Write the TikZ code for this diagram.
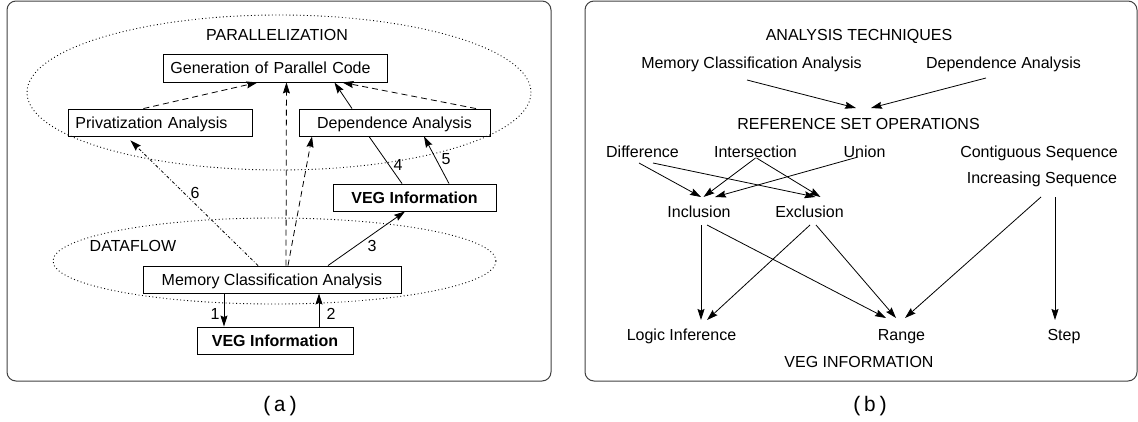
\documentclass[tikz,border=0pt]{standalone}
\usepackage{fontspec}
\setmainfont{Liberation Sans}
\newfontfamily\capfont{Liberation Mono}
\usetikzlibrary{arrows.meta,calc,shapes.geometric}
\begin{document}
\begin{tikzpicture}[x=1pt,y=-1pt,
  every node/.style={font=\fontsize{16}{19}\selectfont, inner sep=0pt, text height=11.5pt, text depth=0pt},
  box/.style={draw, line width=0.9pt, minimum height=27pt, inner xsep=7pt},
  boxb/.style={box, font=\fontsize{16}{19}\selectfont\bfseries},
  con/.style={line width=0.8pt},
  arr/.style={con, -{Stealth[length=11pt,width=7pt,inset=1.5pt]}},
  dsh/.style={dash pattern=on 6pt off 4pt},
  dd/.style={dash pattern=on 3pt off 2pt on 0.8pt off 2pt},
  dotline/.style={line width=0.9pt, dash pattern=on 0.9pt off 2.6pt},
  panel/.style={draw=black!75, line width=1pt, rounded corners=9pt},
  captxt/.style={font=\capfont\fontsize{21}{24}\selectfont, text height=, text depth=, anchor=base},
]
\useasboundingbox (0,0) rectangle (1138,421);

% ---------- panel (a) ----------
\draw[panel] (7,1) rectangle (551,381);
\draw[dotline] (279,92.5) ellipse [x radius=252pt, y radius=77.5pt];
\draw[dotline] (274.5,261) ellipse [x radius=221.5pt, y radius=43pt];

\node (par) at (277,35) {PARALLELIZATION};
\node (dfl) at (133,246) {DATAFLOW};

\node[box, anchor=west, minimum height=28pt, text width=210pt, align=left] (gen) at (163,68) {Generation of Parallel Code};
\node[box, anchor=west, text width=170pt, align=left] (priv) at (68,122.5) {Privatization Analysis};
\node[box, minimum width=191pt] (dep) at (394.5,122.5) {Dependence Analysis};
\node[boxb, minimum width=163pt] (vegU) at (414.5,197.5) {VEG Information};
\node[box, minimum width=258pt] (mca) at (272,279.5) {Memory Classification Analysis};
\node[boxb, minimum width=156pt] (vegL) at (275,340.5) {VEG Information};

\draw[arr,dsh] ([xshift=-17pt]priv.north) -- ([xshift=-18pt]gen.south);
\draw[arr] ([xshift=-42.5pt]dep.north) -- ([xshift=59pt]gen.south);
\draw[arr,dsh] ([xshift=81.5pt]dep.north) -- ([xshift=67pt]gen.south);
\draw[arr,dsh] ([xshift=14pt]mca.north) -- ([xshift=11pt]gen.south);
\draw[arr,dsh] ([xshift=16pt]mca.north) -- ([xshift=-82.5pt]dep.south);
\draw[arr,dd] ([xshift=-14pt]mca.north) -- ([shift={(-30,4)}]priv.south);
\draw[arr] ([xshift=56pt]mca.north) -- ([xshift=-9.5pt]vegU.south);
\draw[con] ([xshift=-25.5pt]dep.south) -- ([xshift=-12.5pt]vegU.north);
\draw[arr] ([xshift=34.5pt]vegU.north) -- ([xshift=29.5pt]dep.south);
\draw[arr] ([xshift=-48pt]mca.south) -- ([xshift=-51pt]vegL.north);
\draw[arr] ([xshift=44pt]vegL.north) -- ([xshift=47pt]mca.south);

\node (l1) at (215,314) {1};
\node (l2) at (331,314) {2};
\node (l3) at (372,246) {3};
\node (l4) at (398,165) {4};
\node (l5) at (446,159) {5};
\node (l6) at (195,193) {6};

\node[captxt] (capa) at (280,411.5) {(a)};

% ---------- panel (b) ----------
\draw[panel] (585,1) rectangle (1137,381);

\node (atech) at (859,35) {ANALYSIS TECHNIQUES};
\node (bmca) at (751.5,63) {Memory Classification Analysis};
\node (bdep) at (1003.5,63) {Dependence Analysis};
\node (rso) at (858.5,124) {REFERENCE SET OPERATIONS};
\node (diff) at (642.5,152) {Difference};
\node (inter) at (755.5,152) {Intersection};
\node (union) at (864.5,152) {Union};
\node (contig) at (1039,152) {Contiguous Sequence};
\node (incr) at (1042,178) {Increasing Sequence};
\node (incl) at (699,212) {Inclusion};
\node (excl) at (809.5,212) {Exclusion};
\node (logic) at (681.5,335) {Logic Inference};
\node (range) at (901.5,335) {Range};
\node (stp) at (1064,335) {Step};
\node (veginfo) at (859,362) {VEG INFORMATION};

\draw[arr] ([shift={(-4.5,17)}]bmca.center) -- ([shift={(-2.5,-16)}]rso.center);
\draw[arr] ([shift={(-17.5,15)}]bdep.center) -- ([shift={(12.5,-16)}]rso.center);
\draw[arr] ([shift={(-3.5,11)}]diff.center) -- ([shift={(2,-15)}]incl.center);
\draw[arr] ([shift={(10.5,11)}]diff.center) -- ([shift={(6,-15)}]excl.center);
\draw[arr] ([shift={(0,6)}]inter.center) -- ([shift={(4.5,-15)}]incl.center);
\draw[arr] ([shift={(1,6)}]inter.center) -- ([shift={(11,-15)}]excl.center);
\draw[arr] ([shift={(-6.5,5)}]union.center) -- ([shift={(16,-15)}]incl.center);
\draw[arr] ([shift={(2,13)}]incl.center) -- ([shift={(19.5,-15)}]logic.center);
\draw[arr] ([shift={(8,13)}]incl.center) -- ([shift={(-15.5,-17)}]range.center);
\draw[arr] ([shift={(0.5,13)}]excl.center) -- ([shift={(25.5,-15)}]logic.center);
\draw[arr] ([shift={(6.5,13)}]excl.center) -- ([shift={(-5.5,-17)}]range.center);
\draw[arr] ([shift={(-1,19)}]incr.center) -- ([shift={(3.5,-17)}]range.center);
\draw[arr] ([shift={(13,19)}]incr.center) -- ([shift={(-9,-15)}]stp.center);

\node[captxt] (capb) at (870,411.5) {(b)};
\end{tikzpicture}
\end{document}
